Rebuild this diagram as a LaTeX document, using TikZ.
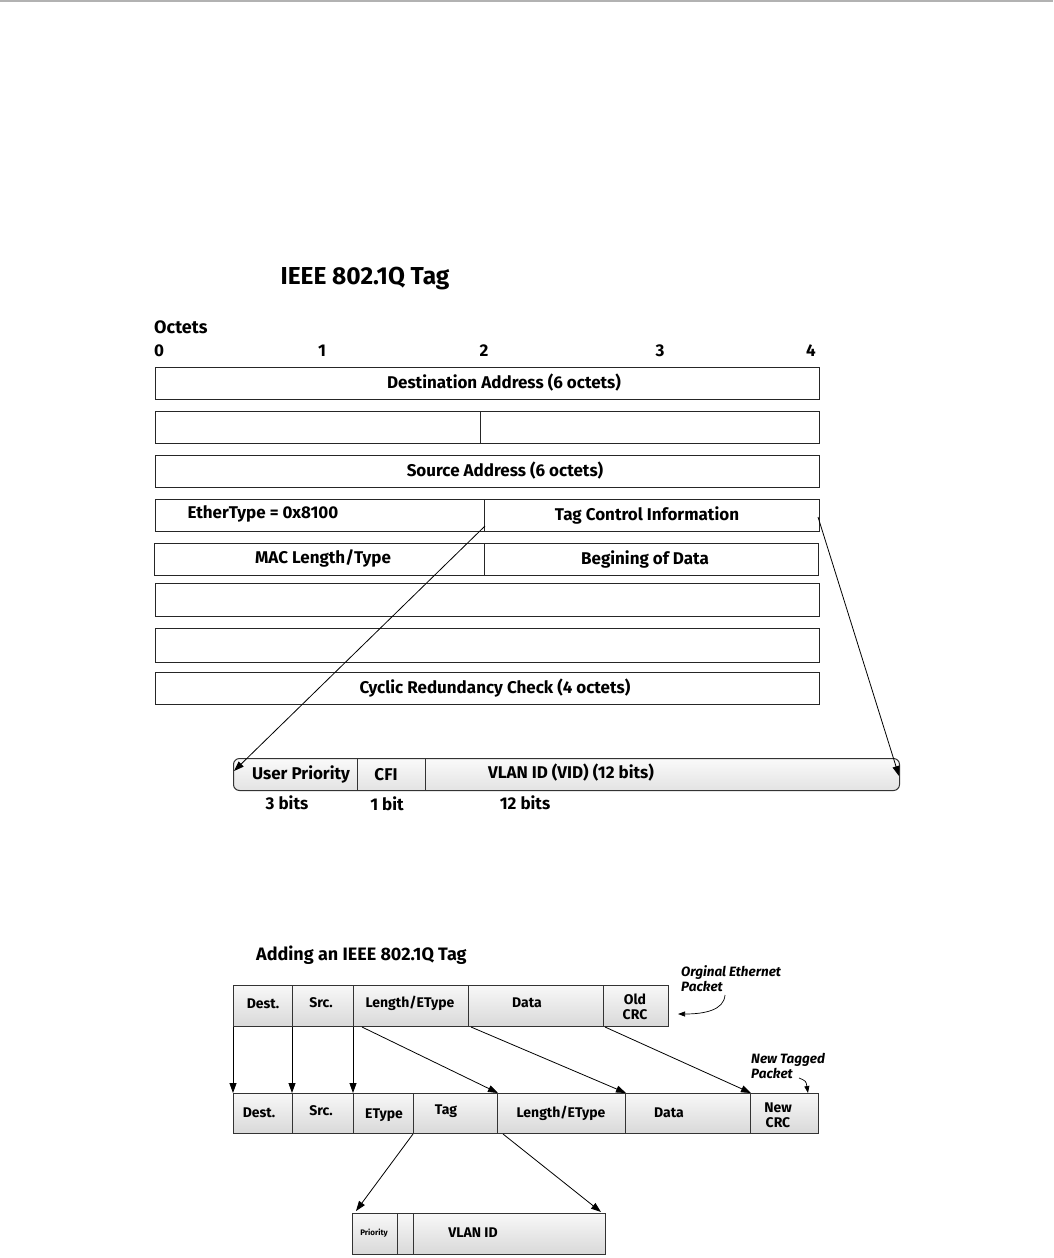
\documentclass[tikz,border=0pt]{standalone}
\usepackage{fontspec}
\setmainfont{Fira Sans}
\usetikzlibrary{arrows.meta,calc}
\begin{document}
\begin{tikzpicture}[x=1pt,y=-1pt,
  cell/.style={draw=black!85,line width=1pt,inner sep=0pt,anchor=north west},
  gcell/.style={draw=black!80,line width=1pt,inner sep=0pt,anchor=north west,top color=gray!6,bottom color=gray!30},
  lbl/.style={font=\fontsize{17}{19}\selectfont\bfseries,inner sep=0pt},
  blbl/.style={font=\fontsize{14}{15}\selectfont\bfseries,inner sep=0pt,align=center},
  note/.style={font=\fontsize{13.5}{15}\selectfont\bfseries\itshape,inner sep=0pt,align=left,anchor=west},
  arr/.style={line width=0.8pt,-{Triangle[length=10pt,width=7pt]}},
  arrs/.style={line width=0.7pt,-{Triangle[length=7pt,width=5pt]}}]
\useasboundingbox (0,0) rectangle (1053,1258);
\draw[gray!60,line width=2pt] (0,1) -- (1053,1);

% ---------- top section
\node[font=\fontsize{24.5}{27}\selectfont\bfseries,inner sep=0pt] (title) at (365,279) {IEEE 802.1Q Tag};
\node[font=\fontsize{18}{20}\selectfont\bfseries,inner sep=0pt,anchor=west] (oct) at (154,327) {Octets};
\foreach \n/\x in {0/159,1/322,2/484,3/660,4/811}
  \node[font=\fontsize{17}{19}\selectfont\bfseries,inner sep=0pt] (o\n) at (\x,351) {\n};

\node[cell,minimum width=664,minimum height=32] (r1) at (155,367) {};
\node[cell,minimum width=325,minimum height=32] (r2a) at (155,411) {};
\node[cell,minimum width=339,minimum height=32] (r2b) at (480,411) {};
\node[cell,minimum width=664,minimum height=32] (r3) at (155,455) {};
\node[cell,minimum width=329,minimum height=32] (r4a) at (155,499) {};
\node[cell,minimum width=335,minimum height=32] (r4b) at (484,499) {};
\node[cell,minimum width=330,minimum height=32] (r5a) at (154,543) {};
\node[cell,minimum width=334,minimum height=32] (r5b) at (484,543) {};
\node[cell,minimum width=664,minimum height=33] (r6) at (155,583) {};
\node[cell,minimum width=664,minimum height=34] (r7) at (155,628) {};
\node[cell,minimum width=664,minimum height=32] (r8) at (155,672) {};

\node[lbl] (t1) at (504,383) {Destination Address (6 octets)};
\node[lbl] (t3) at (505,471) {Source Address (6 octets)};
\node[lbl] (t4a) at (263,514) {EtherType = 0x8100};
\node[lbl] (t4b) at (647,515) {Tag Control Information};
\node[lbl] (t5a) at (323,558) {MAC Length/Type};
\node[lbl] (t5b) at (645,559) {Begining of Data};
\node[lbl] (t8) at (495,688) {Cyclic Redundancy Check (4 octets)};

% tag control row
\node[draw=black!80,line width=1pt,rounded corners=6pt,inner sep=0pt,anchor=north west,
      minimum width=666,minimum height=32,top color=gray!4,bottom color=gray!22] (tag) at (233,758) {};
\draw[black!80,line width=1pt] (357,758) -- (357,790) (425,758) -- (425,790);
\node[lbl] (up) at (301,774) {User Priority};
\node[lbl] (cfi) at (386,775) {CFI};
\node[lbl] (vid) at (571,773) {VLAN ID (VID) (12 bits)};
\node[lbl] (b3) at (287,803) {3 bits};
\node[lbl] (b1) at (387,804) {1 bit};
\node[lbl] (b12) at (525,803) {12 bits};

\coordinate (s1) at (485,526);
\coordinate (e1) at (234,771);
\coordinate (s2) at (818,517);
\coordinate (e2) at (899,776);
\draw[arr] (s1) -- (e1);
\draw[arr] (s2) -- (e2);

% ---------- bottom section
\node[font=\fontsize{18}{20}\selectfont\bfseries,inner sep=0pt,anchor=west] (title2) at (256,955) {Adding an IEEE 802.1Q Tag};

\node[gcell,minimum width=59,minimum height=41] (d1) at (233,985) {};
\node[gcell,minimum width=61,minimum height=41] (sr1) at (292,985) {};
\node[gcell,minimum width=115,minimum height=41] (l1) at (353,985) {};
\node[gcell,minimum width=135,minimum height=41] (da1) at (468,985) {};
\node[gcell,minimum width=65,minimum height=41] (c1) at (603,985) {};
\node[blbl] at (263,1004) {Dest.};
\node[blbl] at (321,1003) {Src.};
\node[blbl] at (410,1003) {Length/EType};
\node[blbl] at (527,1003) {Data};
\node[blbl] at (635,1007) {Old\\CRC};

\node[gcell,minimum width=59,minimum height=40] (d2) at (233,1093) {};
\node[gcell,minimum width=61,minimum height=40] (sr2) at (292,1093) {};
\node[gcell,minimum width=60,minimum height=40] (e2c) at (353,1093) {};
\node[gcell,minimum width=84,minimum height=40] (t2) at (413,1093) {};
\node[gcell,minimum width=128,minimum height=40] (l2) at (497,1093) {};
\node[gcell,minimum width=125,minimum height=40] (da2) at (625,1093) {};
\node[gcell,minimum width=68,minimum height=40] (c2) at (750,1093) {};
\node[blbl] at (259,1113) {Dest.};
\node[blbl] at (321,1111) {Src.};
\node[blbl] at (384,1115) {EType};
\node[blbl] at (446,1111) {Tag};
\node[blbl] at (561,1113) {Length/EType};
\node[blbl] at (669,1113) {Data};
\node[blbl] at (778,1115) {New\\CRC};

\node[gcell,minimum width=45,minimum height=41] (p3) at (352,1213) {};
\node[gcell,minimum width=16,minimum height=41] (cf3) at (397,1213) {};
\node[gcell,minimum width=192,minimum height=41] (v3) at (413,1213) {};
\node[font=\fontsize{8}{9}\selectfont\bfseries,inner sep=0pt] at (374,1233) {Priority};
\node[blbl] at (473,1233) {VLAN ID};

\node[note] (orig) at (681,979) {Orginal Ethernet\\Packet};
\node[note] (newt) at (751,1066) {New Tagged\\Packet};
\coordinate (oa) at (725,995);
\coordinate (ob) at (678,1014);
\draw[arrs] (oa) .. controls (724,1010) and (705,1014) .. (ob);
\coordinate (na) at (799,1078);
\coordinate (nb) at (808,1093);
\draw[arrs] (na) .. controls (806,1081) .. (nb);

\draw[arr] (d1.south west) -- (d2.north west);
\draw[arr] (sr1.south west) -- (sr2.north west);
\draw[arr] (l1.south west) -- (e2c.north west);
\draw[arr] ($(l1.south west)+(9,0)$) -- (t2.north east);
\draw[arr] ($(da1.south west)+(3,0)$) -- (l2.north east);
\draw[arr] ($(c1.south west)+(2,0)$) -- (da2.north east);
\draw[arr] (t2.south west) -- ($(p3.north west)+(4,-2)$);
\draw[arr] ($(t2.south east)+(5,0)$) -- ($(v3.north east)+(-5,-1)$);
\end{tikzpicture}
\end{document}
